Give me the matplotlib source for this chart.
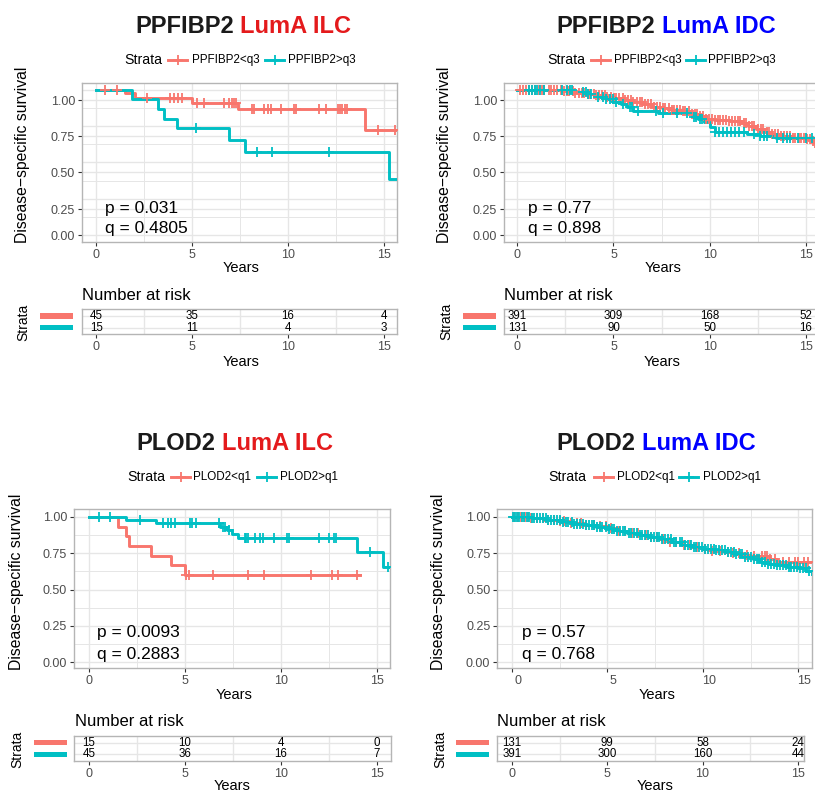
import numpy as np
import matplotlib
matplotlib.use('Agg')
import matplotlib.pyplot as plt
from matplotlib.lines import Line2D
from matplotlib.patches import Rectangle
import matplotlib.transforms as mtransforms

plt.rcParams['font.family'] = ['Liberation Sans', 'DejaVu Sans']

W, H = 815, 793
PINK = '#F8766D'
TEAL = '#00BFC4'
GRID = '#E6E6E6'
BORDER = '#B5B5B5'
TICKC = '#4D4D4D'

# ------------------------------------------------------------------ data
titles_gene = ['PPFIBP2', 'PPFIBP2', 'PLOD2', 'PLOD2']
titles_group = ['LumA ILC', 'LumA IDC', 'LumA ILC', 'LumA IDC']
title_colors = ['#E41A1C', '#0000FF', '#E41A1C', '#0000FF']
legend_labels = [['PPFIBP2<q3', 'PPFIBP2>q3'], ['PPFIBP2<q3', 'PPFIBP2>q3'],
                 ['PLOD2<q1', 'PLOD2>q1'], ['PLOD2<q1', 'PLOD2>q1']]
p_texts = ['p = 0.031', 'p = 0.77', 'p = 0.0093', 'p = 0.57']
q_texts = ['q = 0.4805', 'q = 0.898', 'q = 0.2883', 'q = 0.768']
x_ticks = [0, 5, 10, 15]
y_tick_labels = ['0.00', '0.25', '0.50', '0.75', '1.00']

# Panel 1: PPFIBP2 LumA ILC
p1_low_t = [0, 1.5, 2.0, 5.0, 7.4, 14.05, 15.73]
p1_low_s = [1.0, 0.978, 0.945, 0.905, 0.865, 0.72, 0.72]
p1_low_c = [0.47, 1.08, 2.65, 3.87, 4.05, 4.25, 4.47, 5.25, 5.6, 6.65, 6.95, 7.1, 7.2, 7.28,
            8.15, 8.24, 8.76, 8.94, 9.12, 9.65, 10.33, 10.44, 11.64, 11.99, 12.62, 12.75,
            12.85, 12.97, 13.07, 14.7, 15.6]
p1_high_t = [0, 1.87, 3.21, 3.52, 4.22, 6.93, 7.75, 15.3, 15.73]
p1_high_s = [1.0, 0.933, 0.867, 0.80, 0.733, 0.654, 0.573, 0.383, 0.383]
p1_high_c = [5.18, 8.38, 9.16, 12.13]
p1_risk_low = [45, 35, 16, 4]
p1_risk_high = [15, 11, 4, 3]

# Panel 2: PPFIBP2 LumA IDC
p2_low_t = [0, 1.5, 2.3, 2.9, 3.5, 4.0, 4.6, 5.0, 5.5, 6.0, 6.5, 7.0, 7.5, 8.0, 8.5, 9.0,
            9.4, 9.8, 10.2, 11.0, 11.6, 12.0, 12.4, 12.8, 13.2, 13.7, 14.2, 15.0, 15.3,
            15.5, 15.6]
p2_low_s = [1.0, 0.995, 0.988, 0.979, 0.97, 0.962, 0.952, 0.942, 0.93, 0.917, 0.90, 0.884,
            0.873, 0.862, 0.85, 0.836, 0.82, 0.80, 0.79, 0.786, 0.77, 0.748, 0.73, 0.712,
            0.697, 0.68, 0.67, 0.658, 0.645, 0.632, 0.632]
p2_low_c = [0.15, 0.32, 0.46, 0.6, 0.78, 0.93, 1.12, 1.27, 1.41, 1.63, 1.76, 1.93, 2.08,
            2.27, 2.42, 2.56, 2.71, 2.88, 3.02, 3.19, 3.36, 3.49, 3.66, 3.8, 3.97, 4.11,
            4.24, 4.42, 4.56, 4.69, 4.86, 5.02, 5.14, 5.31, 5.47, 5.58, 5.77, 5.91, 6.04,
            6.22, 6.36, 6.48, 6.66, 6.79, 6.96, 7.12, 7.26, 7.41, 7.57, 7.69, 7.87, 8.03,
            8.16, 8.31, 8.47, 8.62, 8.73, 8.91, 9.06, 9.22, 9.33, 9.52, 9.66, 9.81, 9.97,
            10.12, 10.26, 10.41, 10.56, 10.68, 10.86, 11.02, 11.14, 11.31, 11.46, 11.58,
            11.77, 11.91, 12.06, 12.21, 12.33, 12.52, 12.66, 12.79, 12.96, 13.11, 13.24,
            13.42, 13.56, 13.71, 13.86, 14.02, 14.16, 14.31, 14.44, 14.62, 14.76, 14.91,
            15.04, 15.21, 15.36, 15.5]
p2_high_t = [0, 2.9, 3.7, 4.2, 4.6, 5.0, 5.4, 5.7, 6.0, 7.3, 9.15, 9.4, 9.7, 10.0, 10.27,
             11.95, 12.6, 13.45, 15.6]
p2_high_s = [1.0, 0.986, 0.968, 0.95, 0.935, 0.917, 0.9, 0.883, 0.855, 0.838, 0.815, 0.795,
             0.775, 0.745, 0.711, 0.697, 0.683, 0.668, 0.668]
p2_high_c = [0.6, 0.75, 0.9, 1.05, 1.2, 1.4, 2.3, 2.6, 2.75, 2.85, 3.4, 3.55, 3.7, 3.85,
             4.2, 4.45, 4.6, 4.8, 4.95, 5.15, 5.5, 5.85, 5.95, 6.3, 7.2, 7.6, 8.3, 8.8,
             9.2, 9.3, 9.5, 9.6, 10.3, 10.5, 10.7, 10.9, 11.1, 11.3, 11.5, 11.8, 12.3,
             12.6, 12.8, 13.0, 13.5, 13.8, 14.0, 14.2, 14.6, 15.0, 15.3]
p2_risk_low = [391, 309, 168, 52]
p2_risk_high = [131, 90, 50, 16]

# Panel 3: PLOD2 LumA ILC
p3_low_t = [0, 1.53, 1.91, 2.07, 3.23, 4.25, 5.0, 14.14]
p3_low_s = [1.0, 0.933, 0.867, 0.80, 0.733, 0.667, 0.60, 0.60]
p3_low_c = [5.08, 5.2, 6.44, 8.3, 9.14, 11.57, 12.68, 13.0, 13.96]
p3_high_t = [0, 1.93, 3.49, 6.85, 7.2, 7.45, 7.78, 13.98, 15.3, 15.68]
p3_high_s = [1.0, 0.978, 0.956, 0.933, 0.908, 0.882, 0.854, 0.756, 0.656, 0.656]
p3_high_c = [0.5, 1.09, 2.66, 3.87, 4.13, 4.27, 4.48, 5.26, 5.35, 5.6, 6.8, 7.0, 7.1, 7.3,
             8.13, 8.2, 8.3, 8.65, 8.9, 9.08, 9.64, 10.3, 10.4, 11.98, 12.52, 12.78,
             12.86, 14.64, 15.6]
p3_risk_low = [15, 10, 4, 0]
p3_risk_high = [45, 36, 16, 7]

# Panel 4: PLOD2 LumA IDC
p4_low_t = [0, 0.9, 1.7, 2.4, 3.1, 3.7, 4.4, 5.0, 5.6, 6.1, 6.7, 7.2, 7.7, 8.3, 8.9, 9.4,
            10.0, 10.5, 11.1, 11.6, 12.0, 12.5, 13.5, 13.9, 15.7]
p4_low_s = [1.0, 0.99, 0.982, 0.97, 0.96, 0.948, 0.936, 0.922, 0.906, 0.89, 0.875, 0.86,
            0.845, 0.828, 0.81, 0.795, 0.778, 0.768, 0.758, 0.75, 0.74, 0.728, 0.712, 0.69,
            0.69]
p4_low_c = [0.1, 0.3, 0.45, 0.7, 0.85, 1.0, 1.3, 1.6, 1.9, 2.2, 2.5, 2.75, 3.1, 3.4, 3.6,
            3.9, 4.3, 4.6, 4.9, 5.2, 5.6, 5.9, 6.3, 6.6, 7.0, 7.3, 7.6, 7.9, 8.3, 8.6, 9.0,
            9.3, 9.7, 10.1, 10.5, 10.9, 11.3, 11.6, 11.9, 12.3, 12.7, 13.1, 13.25, 13.35,
            13.5, 13.8, 14.2, 14.5, 14.8, 15.0, 15.3, 15.5]
p4_high_t = [0, 1.0, 1.8, 2.5, 3.2, 3.8, 4.4, 5.0, 5.5, 6.0, 6.6, 7.2, 7.8, 8.4, 9.0, 9.5,
             10.0, 10.6, 11.2, 11.7, 12.1, 12.6, 13.0, 13.4, 13.8, 14.4, 15.0, 15.4, 15.7]
p4_high_s = [1.0, 0.99, 0.98, 0.966, 0.955, 0.943, 0.932, 0.92, 0.905, 0.887, 0.873, 0.862,
             0.846, 0.83, 0.81, 0.794, 0.78, 0.77, 0.76, 0.745, 0.725, 0.707, 0.69, 0.677,
             0.667, 0.656, 0.645, 0.625, 0.61]
p4_high_c = [0.05, 0.18, 0.27, 0.39, 0.52, 0.61, 0.76, 0.88, 1.04, 1.17, 1.33, 1.46, 1.62,
             1.78, 1.91, 2.06, 2.21, 2.37, 2.49, 2.66, 2.81, 2.94, 3.12, 3.27, 3.41, 3.58,
             3.72, 3.86, 4.03, 4.17, 4.31, 4.47, 4.62, 4.74, 4.91, 5.07, 5.22, 5.36, 5.51,
             5.66, 5.79, 5.94, 6.11, 6.26, 6.38, 6.55, 6.69, 6.83, 6.99, 7.14, 7.28, 7.43,
             7.59, 7.72, 7.88, 8.02, 8.18, 8.33, 8.47, 8.61, 8.78, 8.92, 9.07, 9.21, 9.37,
             9.52, 9.66, 9.82, 9.96, 10.11, 10.27, 10.42, 10.56, 10.71, 10.86, 11.02,
             11.16, 11.31, 11.47, 11.61, 11.76, 11.92, 12.06, 12.22, 12.36, 12.51, 12.67,
             12.82, 12.96, 13.12, 13.27, 13.42, 13.57, 13.72, 13.88, 14.03, 14.18, 14.33,
             14.49, 14.63, 14.79, 14.94, 15.08, 15.24, 15.39, 15.55]
p4_risk_low = [131, 99, 58, 24]
p4_risk_high = [391, 300, 160, 44]

# ------------------------------------------------------------------ figure
fig = plt.figure(figsize=(W / 100, H / 100), dpi=100)
PX = mtransforms.Affine2D().scale(1 / W, -1 / H).translate(0, 1) + fig.transFigure


def add_axes_px(x0, y0, x1, y1):
    return fig.add_axes([x0 / W, 1 - y1 / H, (x1 - x0) / W, (y1 - y0) / H])


def step_value(t, s, x):
    idx = np.searchsorted(np.asarray(t), np.asarray(x), side='right') - 1
    return np.asarray(s)[np.clip(idx, 0, len(s) - 1)]


def style_axes(ax):
    for sp in ax.spines.values():
        sp.set_color(BORDER)
        sp.set_linewidth(1.0)
    ax.tick_params(axis='both', colors='#333333', labelcolor=TICKC, labelsize=9,
                   length=3, width=0.8, pad=2)
    ax.set_facecolor('white')


def km(ax, t, s, c, color):
    ax.step(t, s, where='post', color=color, lw=2.1, zorder=3, clip_on=True)
    ax.plot(c, step_value(t, s, c), ls='none', marker='+', ms=7, mew=1.3,
            color=color, zorder=4)


panels = [
    dict(curves=[(p1_low_t, p1_low_s, p1_low_c), (p1_high_t, p1_high_s, p1_high_c)],
         risk=[p1_risk_low, p1_risk_high],
         plot_box=(82, 83, 397.5, 242), xlim=(-0.75, 15.73), ylim=(-0.048, 1.046),
         ytick_pos=[0.0, 0.179, 0.432, 0.679, 0.929], extra_grid=True,
         title_xy=(135, 33), leg=(60, 124, 168, 192, 265, 288),
         ylab_xy=(22.7, 155), xlab_y=268, pq=(105, 208, 228),
         tab_box=(82, 309.3, 397, 334.3), tab_xlim=(-0.75, 15.7),
         nar_xy=(82, 295), strata_xy=(23.3, 322.7), bars_x=(40, 72.7), bars_y=(316, 327.7),
         tab_xlab_y=361.7, xlab_x=241, tab_xlab_x=241, xtick_shift=0),
    dict(curves=[(p2_low_t, p2_low_s, p2_low_c), (p2_high_t, p2_high_s, p2_high_c)],
         risk=[p2_risk_low, p2_risk_high],
         plot_box=(504, 83, 817, 242), xlim=(-0.69, 15.58), ylim=(-0.048, 1.046),
         ytick_pos=[0.0, 0.179, 0.432, 0.679, 0.929], extra_grid=True,
         title_xy=(556.7, 33), leg=(60, 547, 591, 614, 686, 708),
         ylab_xy=(445, 155), xlab_y=268, pq=(528, 208, 228),
         tab_box=(504, 309.3, 817, 334.3), tab_xlim=(-0.69, 15.58),
         nar_xy=(504, 295), strata_xy=(446, 321.7), bars_x=(463, 496), bars_y=(316, 327.7),
         tab_xlab_y=361.7, xlab_x=663, tab_xlab_x=662, xtick_shift=0),
    dict(curves=[(p3_low_t, p3_low_s, p3_low_c), (p3_high_t, p3_high_s, p3_high_c)],
         risk=[p3_risk_low, p3_risk_high],
         plot_box=(74, 509, 390, 668), xlim=(-0.78, 15.69), ylim=(-0.041, 1.055),
         ytick_pos=[0.0, 0.25, 0.5, 0.75, 1.0], extra_grid=False,
         title_xy=(136.7, 450), leg=(477, 127, 171, 193, 257, 280),
         ylab_xy=(16.7, 581.7), xlab_y=695, pq=(97, 633, 655),
         tab_box=(74, 736, 391, 761), tab_xlim=(-0.78, 15.74),
         nar_xy=(75, 721.7), strata_xy=(17.3, 749.3), bars_x=(34, 66.7), bars_y=(742.7, 754.3),
         tab_xlab_y=785.5, xlab_x=234, tab_xlab_x=232, xtick_shift=0),
    dict(curves=[(p4_low_t, p4_low_s, p4_low_c), (p4_high_t, p4_high_s, p4_high_c)],
         risk=[p4_risk_low, p4_risk_high],
         plot_box=(497.3, 509, 811.7, 668), xlim=(-0.77, 15.7), ylim=(-0.041, 1.055),
         ytick_pos=[0.0, 0.25, 0.5, 0.75, 1.0], extra_grid=False,
         title_xy=(556.7, 450), leg=(477, 548, 594, 617, 679, 703),
         ylab_xy=(438.3, 581.7), xlab_y=695, pq=(522, 633, 655),
         tab_box=(497.3, 736, 804.3, 761), tab_xlim=(-0.77, 15.34),
         nar_xy=(497.3, 721.7), strata_xy=(440, 749.3), bars_x=(456, 488.7),
         bars_y=(742.7, 754.3), tab_xlab_y=785.5, xlab_x=657, tab_xlab_x=655, xtick_shift=6),
]

for i, cfg in enumerate(panels):
    # ---------------- main KM axes
    ax = add_axes_px(*cfg['plot_box'])
    style_axes(ax)
    ax.set_xlim(*cfg['xlim'])
    ax.set_ylim(*cfg['ylim'])
    for gx in [0, 2.5, 5, 7.5, 10, 12.5, 15]:
        ax.axvline(gx, color=GRID, lw=1.0 if gx % 5 == 0 else 0.7, zorder=0)
    for gy in np.arange(0, 1.01, 0.125):
        ax.axhline(gy, color=GRID, lw=1.0 if (gy * 4) % 1 == 0 else 0.7, zorder=0)
    if cfg['extra_grid']:
        for gy in cfg['ytick_pos'][1:]:
            ax.axhline(gy, color=GRID, lw=1.0, zorder=0)
    colors = [PINK, TEAL]
    for (t, s, c), col in zip(cfg['curves'], colors):
        km(ax, t, s, c, col)
    ax.set_xticks(x_ticks)
    ax.set_xticklabels([str(v) for v in x_ticks])
    ax.set_yticks(cfg['ytick_pos'])
    ax.set_yticklabels(y_tick_labels)
    if cfg['xtick_shift']:
        off = mtransforms.ScaledTranslation(cfg['xtick_shift'] / 100, 0, fig.dpi_scale_trans)
        for lab in ax.get_xticklabels():
            lab.set_transform(lab.get_transform() + off)

    # p / q annotations
    px, py1, py2 = cfg['pq']
    fig.text(px, py1, p_texts[i], transform=PX, fontsize=12.5, va='center', ha='left')
    fig.text(px, py2, q_texts[i], transform=PX, fontsize=12.5, va='center', ha='left')

    # axis labels
    fig.text(cfg['ylab_xy'][0], cfg['ylab_xy'][1], 'Disease\u2212specific survival',
             transform=PX, rotation=90, fontsize=11.3, ha='center', va='center')
    fig.text(cfg['xlab_x'], cfg['xlab_y'], 'Years', transform=PX, fontsize=10.5,
             ha='center', va='center')

    # title (two colours)
    tx, ty = cfg['title_xy']
    t1 = fig.text(tx, ty, titles_gene[i], transform=PX, fontsize=17, fontweight='bold',
                  color='#1A1A1A', ha='left', va='baseline')
    ax.annotate(titles_group[i], xy=(1, 0), xycoords=t1, xytext=(4.7, 0),
                textcoords='offset points', fontsize=17, fontweight='bold',
                color=title_colors[i], ha='left', va='bottom', annotation_clip=False)

    # legend
    ly, sx, l1x, t1x, l2x, t2x = cfg['leg']
    fig.text(sx, ly, 'Strata', transform=PX, fontsize=10.2, va='center', ha='left')
    for lx, txx, col, lab in [(l1x, t1x, PINK, legend_labels[i][0]),
                              (l2x, t2x, TEAL, legend_labels[i][1])]:
        fig.add_artist(Line2D([lx, lx + 19], [ly, ly], transform=PX, color=col, lw=2.1))
        fig.add_artist(Line2D([lx + 9.5], [ly], transform=PX, color=col, marker='+',
                              ms=7, mew=1.3, ls='none'))
        fig.text(txx, ly, lab, transform=PX, fontsize=8.4, va='center', ha='left')

    # ---------------- risk table
    tb = add_axes_px(*cfg['tab_box'])
    style_axes(tb)
    tb.set_xlim(*cfg['tab_xlim'])
    y0p, y1p = cfg['tab_box'][1], cfg['tab_box'][3]
    r_top, r_bot = cfg['bars_y']
    unit = r_bot - r_top
    tb.set_ylim(1 - (y1p - r_bot) / unit, 2 + (r_top - y0p) / unit)
    for gx in [2.5, 7.5, 12.5]:
        tb.axvline(gx, color=GRID, lw=1.0, zorder=0)
    for gy in [1, 2]:
        tb.axhline(gy, color=GRID, lw=1.0, zorder=0)
    tb.set_yticks([])
    tb.set_xticks(x_ticks)
    tb.set_xticklabels([str(v) for v in x_ticks])
    for row, vals in zip([2, 1], cfg['risk']):
        for xv, n in zip(x_ticks, vals):
            tb.text(xv, row, str(n), ha='center', va='center', fontsize=8.3, color='black',
                    clip_on=False)
    fig.text(cfg['nar_xy'][0], cfg['nar_xy'][1], 'Number at risk', transform=PX,
             fontsize=12, va='center', ha='left')
    fig.text(cfg['strata_xy'][0], cfg['strata_xy'][1], 'Strata', transform=PX,
             fontsize=10, rotation=90, va='center', ha='center')
    bx0, bx1 = cfg['bars_x']
    for yy, col in zip(cfg['bars_y'], colors):
        fig.add_artist(Rectangle((bx0, yy - 2.6), bx1 - bx0, 5.2, transform=PX,
                                 color=col, lw=0))
    fig.text(cfg['tab_xlab_x'], cfg['tab_xlab_y'], 'Years', transform=PX, fontsize=10.5,
             ha='center', va='center')

fig.savefig('out.png', dpi=100, facecolor='white')
